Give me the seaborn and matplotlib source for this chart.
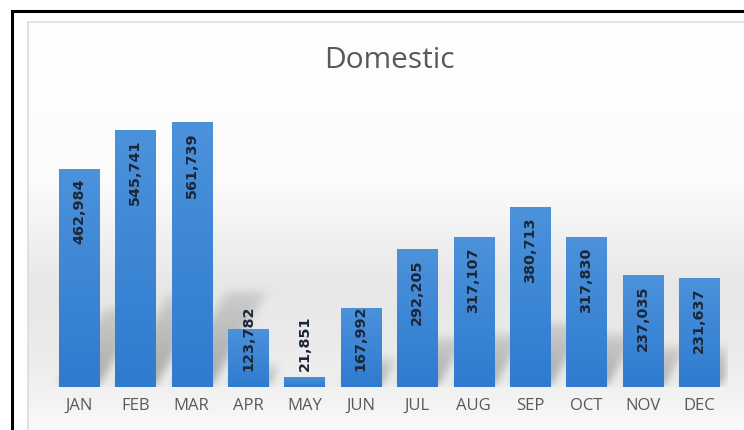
import numpy as np
import matplotlib
matplotlib.use('Agg')
import matplotlib.pyplot as plt
from matplotlib.colors import LinearSegmentedColormap
from matplotlib.patches import Rectangle
import seaborn as sns

# Monthly domestic figures
months = ['JAN', 'FEB', 'MAR', 'APR', 'MAY', 'JUN',
          'JUL', 'AUG', 'SEP', 'OCT', 'NOV', 'DEC']
values = [462984, 545741, 561739, 123782, 21851, 167992,
          292205, 317107, 380713, 317830, 237035, 231637]
title = 'Domestic'

sns.set_style('white')
plt.rcParams['font.family'] = ['Open Sans', 'DejaVu Sans']

W_PX, H_PX, DPI = 744, 430, 100
fig = plt.figure(figsize=(W_PX / DPI, H_PX / DPI), dpi=DPI)
fig.patch.set_facecolor('white')

# chart area background: vertical grey gradient
bg = fig.add_axes([28 / W_PX, 0, 1 - 28 / W_PX, (H_PX - 22) / H_PX], zorder=-2)
stops = [(0.0, '#fafafa'), (0.07, '#f3f3f3'), (0.2, '#ebebeb'), (0.35, '#e7e7e7'),
         (0.6, '#fbfbfb'), (0.85, '#fefefe'), (1.0, '#fdfdfd')]
bg_cmap = LinearSegmentedColormap.from_list('bg', stops)
bg.imshow(np.linspace(0, 1, 256).reshape(-1, 1), aspect='auto', cmap=bg_cmap,
          origin='lower', extent=[0, 1, 0, 1])
bg.set_xlim(0, 1)
bg.set_ylim(0, 1)
bg.axis('off')
bg.add_patch(Rectangle((0, -0.1), 1.2, 1.1, transform=bg.transAxes, fill=False,
                       edgecolor='#dcdcdc', lw=1.2, clip_on=False))

# main axes
ymax = 600000
ax = fig.add_axes([50.8 / W_PX, 43 / H_PX, 676.4 / W_PX, 283 / H_PX])
ax.patch.set_alpha(0)
bar_w = 0.71
sns.barplot(x=months, y=values, color='#3b86d4', width=bar_w, ax=ax, zorder=3)
ax.set_xlim(-0.5, len(months) - 0.5)
ax.set_ylim(0, ymax)

ax_w_px = 676.4
ax_h_px = 283.0
px_x = ax_w_px / len(months)
px_y = ax_h_px / ymax

# soft perspective shadows behind the bars
Hs, Ws = int(ax_h_px), int(ax_w_px)
shadow = np.zeros((Hs, Ws))
k, s = 0.36, 0.58
for i, v in enumerate(values):
    top = int(k * v * px_y)
    for r in range(top):
        x0 = (i + 0.5 - bar_w / 2) * px_x + s * r
        a = 1.0 - 0.6 * r / max(top, 1)
        lo, hi = max(int(x0), 0), min(int(x0 + bar_w * px_x), Ws)
        shadow[r, lo:hi] = np.maximum(shadow[r, lo:hi], a)


def box_blur(arr, rad):
    # separable box filter keeping the array size
    pad = np.pad(arr, rad, mode='constant')
    c = np.vstack([np.zeros((1, pad.shape[1])), np.cumsum(pad, axis=0)])
    arr = (c[2 * rad + 1:] - c[:-2 * rad - 1]) / (2 * rad + 1)
    c = np.hstack([np.zeros((arr.shape[0], 1)), np.cumsum(arr, axis=1)])
    arr = (c[:, 2 * rad + 1:] - c[:, :-2 * rad - 1]) / (2 * rad + 1)
    return arr


for _ in range(3):
    shadow = box_blur(shadow, 4)
rgba = np.zeros((shadow.shape[0], shadow.shape[1], 4))
rgba[..., :3] = 0.42
rgba[..., 3] = np.clip(shadow * 0.55, 0, 1)
ax.imshow(rgba, origin='lower', aspect='auto', zorder=1,
          extent=[-0.5, len(months) - 0.5, 0, ax_h_px / px_y])

# gradient fill on the bars
bar_cmap = LinearSegmentedColormap.from_list('bar', ['#2e7bd0', '#4c92db'])
for p in ax.patches:
    x0, w, h = p.get_x(), p.get_width(), p.get_height()
    im = ax.imshow(np.linspace(0, 1, 64).reshape(-1, 1), origin='lower', aspect='auto',
                   cmap=bar_cmap, extent=[x0, x0 + w, 0, h], zorder=3)
    im.set_clip_path(p)
    p.set_facecolor('none')
    p.set_edgecolor('none')
ax.set_xlim(-0.5, len(months) - 0.5)
ax.set_ylim(0, ymax)

# value labels: inside end, pushed up to a floor when the bar is too short
for i, v in enumerate(values):
    h = v * px_y
    txt = f'{v:,}'
    txt_len = 9.6 * len(txt)
    if h - 10 - txt_len >= 16:
        y, va = v - 10 / px_y, 'top'
    else:
        y, va = 16 / px_y, 'bottom'
    ax.text(i, y, txt, rotation=90, ha='center', va=va, fontsize=10.4,
            fontweight='bold', family='DejaVu Sans', color='#1c2638', zorder=5)

ax.set_xlabel('')
ax.set_ylabel('')
ax.set_yticks([])
ax.tick_params(axis='x', length=0, pad=8, labelsize=12, labelcolor='#595959')
sns.despine(ax=ax, left=True, bottom=True)

fig.text(389 / W_PX, (H_PX - 60) / H_PX, title, ha='center', va='center',
         fontsize=21.5, color='#595959')

# outer black frame
fig.patches.append(Rectangle((12 / W_PX, -0.2), 1.2, 0.2 + (H_PX - 11) / H_PX,
                             transform=fig.transFigure, fill=False,
                             edgecolor='black', lw=2.2, zorder=10))

fig.savefig('out.png', dpi=DPI, facecolor='white')
